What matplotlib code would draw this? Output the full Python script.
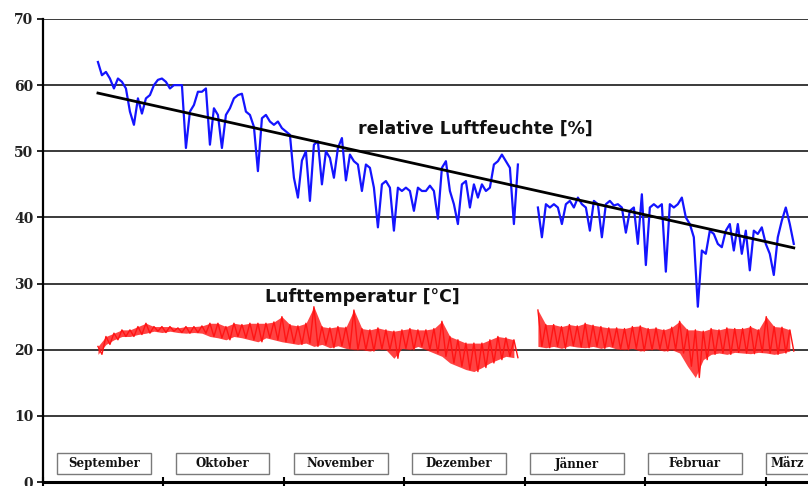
import numpy as np
import matplotlib
matplotlib.use("Agg")
import matplotlib.pyplot as plt
from matplotlib.patches import Rectangle

# ---------------- data ----------------
months = ["September", "Oktober", "November", "Dezember", "Jänner", "Februar", "März"]
y_ticks = [0, 10, 20, 30, 40, 50, 60, 70]

# measurement periods, in months since 1 September
period1 = (0.456, 3.942)
period2 = (4.108, 6.232)

# relative humidity [%], evenly sampled over each period
hum_period1 = [
    63.5, 61.5, 62, 61, 59.5, 61, 60.5, 59.5, 56, 54,
    58, 55.7, 58, 58.5, 60, 60.8, 61, 60.5, 59.5, 60,
    60, 60, 50.5, 56, 57, 59, 59, 59.5, 51, 56.5,
    55.5, 50.5, 55.5, 56.5, 58, 58.5, 58.7, 56, 55.5, 53.7,
    47, 55, 55.5, 54.5, 54, 54.5, 53.5, 53, 52.5, 46,
    43, 48.6, 50, 42.5, 51, 51.5, 45, 50, 49, 46,
    50.5, 52, 45.6, 49.5, 48.5, 48, 44, 48, 47.5, 44.5,
    38.5, 45, 45.5, 44.5, 38, 44.5, 44, 44.5, 44, 41,
    44.5, 44, 44, 44.8, 44, 39.8, 47.5, 48.5, 44, 42,
    39, 45, 45.5, 41.5, 45, 43, 45, 44, 44.5, 48,
    48.5, 49.5, 48.5, 47.5, 39, 48,
]
hum_period2 = [
    41.5, 37, 42, 41.5, 42, 41.5, 39, 42, 42.5, 41.5,
    43, 42, 41.5, 38, 42.5, 42, 37, 42, 42.5, 41.8,
    42, 41.5, 37.7, 41, 41.5, 36, 43.5, 32.8, 41.5, 42,
    41.5, 42, 31.8, 42, 41.5, 42, 43, 40, 39, 37,
    26.5, 35, 34.5, 38, 37.5, 36, 35.5, 38, 39, 35,
    39, 34.5, 38, 32, 38, 37.5, 38.5, 36, 34.5, 31.3,
    37, 39.5, 41.5, 39, 36,
]

# air temperature [°C]: alternating high / low readings
temp_high_period1 = [
    20.5, 22, 22.5, 23, 23, 23.5, 24, 23.5, 23.5, 23.5,
    23.3, 23.5, 23.5, 23.6, 24, 24, 23.5, 24, 23.8, 24,
    24, 24, 24.2, 25, 23.8, 23.6, 24, 26.5, 23.5, 23.3,
    23.5, 23.4, 26, 23.2, 23, 23.3, 23, 22.8, 23, 23.2,
    23, 23, 23.2, 24.3, 22, 21.5, 21, 21, 21, 21.5,
    22, 21.8, 21.5,
]
temp_low_period1 = [
    19.3, 20.8, 21.5, 22, 22, 22.3, 22.5, 22.8, 22.6, 22.8,
    22.6, 22.5, 22.6, 22.5, 22, 21.8, 21.5, 22, 21.8, 21.5,
    21.2, 21.8, 21.5, 21.2, 21, 20.8, 21, 20.5, 20.8, 20.3,
    20.6, 20.2, 20, 20, 19.8, 20.1, 20, 18.7, 20.2, 20,
    20.5, 20, 19.5, 19, 18, 17.5, 17, 16.7, 17.3, 18,
    18.5, 19, 18.8,
]
temp_high_period2 = [
    26, 23.8, 23.8, 23.5, 23.8, 23.6, 24, 23.7, 23.5, 23.3,
    23.3, 23.2, 23.5, 23.6, 23.2, 23.3, 23, 23.4, 24.3, 23,
    23, 22.8, 23.2, 23, 23.3, 23.2, 23.2, 23.5, 23, 25,
    23.5, 23.4, 23,
]
temp_low_period2 = [
    20.5, 20.3, 20.5, 20.2, 20.6, 20.4, 20.3, 20.5, 20.2, 20.5,
    20.1, 20, 20.2, 19.8, 20, 20.1, 19.8, 20, 19.5, 17.5,
    15.8, 18.5, 19.3, 19.5, 19.3, 19.6, 19.5, 19.4, 19.6, 19.5,
    19.3, 19.5, 19.8,
]

# linear trend of the humidity (start / end value)
trend_start = 58.8
trend_end = 35.4

label_hum = "relative Luftfeuchte [%]"
label_temp = "Lufttemperatur [°C]"

# ---------------- plot ----------------
W, H = 808, 486
fig = plt.figure(figsize=(W / 100, H / 100), dpi=100)
ax = fig.add_axes([43 / W, 4 / H, (W - 43) / W, 463 / H])
xmax = 6.35
ax.set_xlim(0, xmax)
ax.set_ylim(0, 70)

blue = "#1414ff"
red = "#ff1414"


def series(values, span):
    return np.linspace(span[0], span[1], len(values)), np.asarray(values)


def zigzag(high, low, span):
    vals = np.column_stack([high, low]).ravel()
    return np.linspace(span[0], span[1], len(vals)), vals


for hum, span in ((hum_period1, period1), (hum_period2, period2)):
    x, y = series(hum, span)
    ax.plot(x, y, color=blue, lw=1.6, zorder=3)

for hi, lo, span in ((temp_high_period1, temp_low_period1, period1),
                     (temp_high_period2, temp_low_period2, period2)):
    x, y = zigzag(hi, lo, span)
    xb = x[0::2]
    ax.fill_between(xb, hi, lo, color=red, alpha=0.8, lw=0, zorder=2)
    ax.plot(x, y, color=red, lw=1.0, zorder=3)

ax.plot([period1[0], period2[1]], [trend_start, trend_end], color="black", lw=2.0, zorder=4)

# axes styling
ax.set_yticks(y_ticks)
ax.set_yticklabels([str(t) for t in y_ticks], fontfamily="DejaVu Serif",
                   fontweight="bold", fontsize=10, color="#222222")
ax.set_xticks(range(len(months)))
ax.set_xticklabels([])
ax.tick_params(axis="y", direction="out", length=4, width=1.2, pad=3)
ax.tick_params(axis="x", direction="inout", length=7, width=1.5)
ax.grid(axis="y", color="#3a3a3a", lw=1.4)
ax.set_axisbelow(True)
for s in ("top", "right"):
    ax.spines[s].set_visible(False)
ax.spines["left"].set_linewidth(1.6)
ax.spines["bottom"].set_linewidth(2.2)
ax.spines["left"].set_color("black")
ax.spines["bottom"].set_color("black")

# month boxes
for i, name in enumerate(months):
    x0, w = i * 0.98 + 0.12, 0.78
    ax.add_patch(Rectangle((x0, 1.2), w, 3.2, facecolor="white",
                           edgecolor="#7a7a7a", lw=1.0, zorder=5))
    cx = (x0 + min(x0 + w, xmax)) / 2
    ax.text(cx, 2.75, name, ha="center", va="center", fontfamily="DejaVu Serif",
            fontweight="bold", fontsize=8.5, color="#111111", zorder=6)

ax.text(3.585, 53.4, label_hum, ha="center", va="center", fontfamily="DejaVu Sans",
        fontweight="bold", fontsize=12.5, color="#111111", zorder=6)
ax.text(2.655, 28.0, label_temp, ha="center", va="center", fontfamily="DejaVu Sans",
        fontweight="bold", fontsize=12.5, color="#111111", zorder=6)

fig.savefig("out.png", dpi=100)
